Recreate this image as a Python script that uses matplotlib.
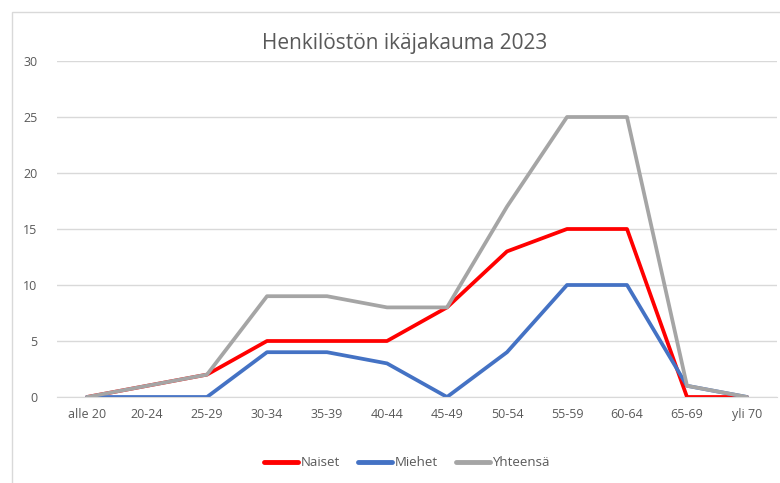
import matplotlib
matplotlib.use("Agg")
import matplotlib.pyplot as plt
from matplotlib.patches import Rectangle

plt.rcParams["font.family"] = ["Open Sans", "DejaVu Sans"]

ages = ["alle 20", "20-24", "25-29", "30-34", "35-39", "40-44",
        "45-49", "50-54", "55-59", "60-64", "65-69", "yli 70"]
naiset = [0, 1, 2, 5, 5, 5, 8, 13, 15, 15, 0, 0]
miehet = [0, 0, 0, 4, 4, 3, 0, 4, 10, 10, 1, 0]
yhteensa = [0, 1, 2, 9, 9, 8, 8, 17, 25, 25, 1, 0]

txt = "#595959"

fig = plt.figure(figsize=(7.8, 4.83), dpi=100)
# chart border
fig.patches.append(Rectangle((12 / 780, -0.01), 1.0, 1 - 12 / 483 + 0.01,
                             transform=fig.transFigure, fill=False,
                             edgecolor="#d9d9d9", lw=1))
ax = fig.add_axes([57 / 780, 1 - 397 / 483, 720 / 780, 336 / 483])

x = range(len(ages))
ax.plot(x, naiset, color="#ff0000", lw=2.7, label="Naiset", solid_capstyle="round")
ax.plot(x, miehet, color="#4472c4", lw=2.7, label="Miehet", solid_capstyle="round")
ax.plot(x, yhteensa, color="#a5a5a5", lw=2.7, label="Yhteensä", solid_capstyle="round")

ax.set_xlim(-0.5, len(ages) - 0.5)
ax.set_ylim(0, 30)
ax.set_yticks(range(0, 31, 5))
ax.set_xticks(list(x))
ax.set_xticklabels(ages)
ax.grid(axis="y", color="#d9d9d9", lw=1)
ax.set_axisbelow(True)
for s in ["top", "right", "left"]:
    ax.spines[s].set_visible(False)
ax.spines["bottom"].set_color("#d9d9d9")
ax.tick_params(length=0, labelsize=9, colors=txt, pad=8)
ax.tick_params(axis="y", pad=14)

fig.text(405 / 780, 1 - 43 / 483, "Henkilöstön ikäjakauma 2023", ha="center",
         va="center", fontsize=15, color=txt)

leg = ax.legend(loc="center", bbox_to_anchor=(407 / 780, 1 - 463 / 483),
                bbox_transform=fig.transFigure, ncol=3, frameon=False, fontsize=9.5,
                labelcolor=txt, handlelength=2.6, handletextpad=0.15, columnspacing=1.4)
for h in leg.get_lines():
    h.set_linewidth(3.5)

fig.savefig("out.png", dpi=100)
